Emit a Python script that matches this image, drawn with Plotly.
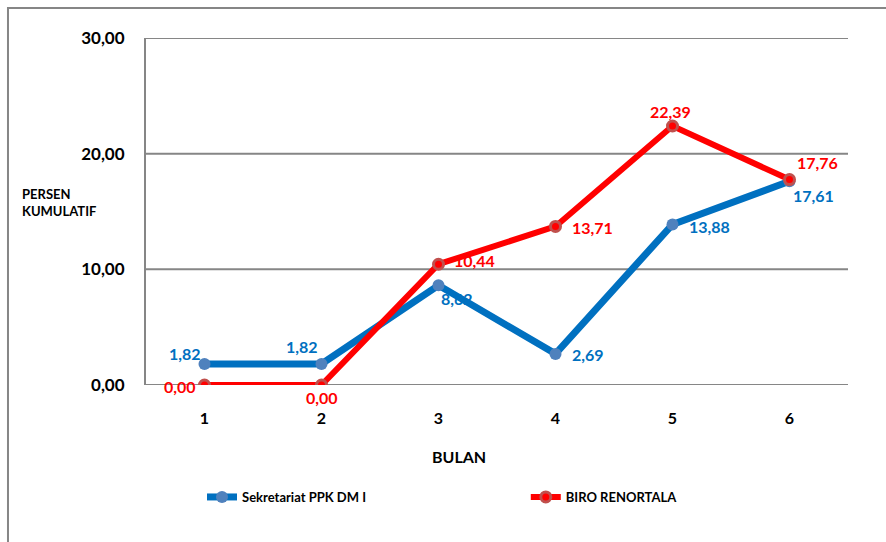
import plotly.graph_objects as go

# Monthly cumulative percentage per unit
bulan = [1, 2, 3, 4, 5, 6]
sekretariat = [1.82, 1.82, 8.62, 2.69, 13.88, 17.61]
biro = [0.00, 0.00, 10.44, 13.71, 22.39, 17.76]
y_ticks = [0, 10, 20, 30]

FONT = "Lato, 'Noto Sans', sans-serif"
BLUE = "#0070C0"
BLUE_MK = "#4F81BD"
RED = "#FF0000"
RED_MK = "#C0504D"
GRID = "#868686"


def fmt(v):
    return f"{v:.2f}".replace(".", ",")


fig = go.Figure()

# horizontal gridlines, including the ones on the range edges
for v in y_ticks:
    fig.add_shape(type="line", xref="paper", yref="y", x0=0, x1=1, y0=v, y1=v,
                  line=dict(color=GRID, width=2), layer="below")

fig.add_trace(go.Scatter(
    x=bulan, y=sekretariat, mode="lines+markers", name="Sekretariat PPK DM I",
    line=dict(color=BLUE, width=7),
    marker=dict(color=BLUE_MK, size=12, symbol="circle"),
    legend="legend",
))
fig.add_trace(go.Scatter(
    x=bulan, y=biro, mode="lines+markers", name="BIRO RENORTALA",
    line=dict(color=RED, width=6),
    marker=dict(color=RED, size=10, symbol="circle",
                line=dict(color=RED_MK, width=3)),
    legend="legend2",
))

# label offsets (px) for each point's value label
blue_shift = [(-20, 10), (-20, 17), (18, -13), (32, -1), (37, -2), (24, -14)]
red_shift = [(-25, -1), (0, -12), (36, 4), (37, -1), (-2, 15), (28, 17)]

for xs, ys, shifts, col in [(bulan, sekretariat, blue_shift, BLUE),
                            (bulan, biro, red_shift, RED)]:
    for x, y, (dx, dy) in zip(xs, ys, shifts):
        fig.add_annotation(x=x, y=y, text=fmt(y), showarrow=False,
                           xshift=dx, yshift=dy,
                           font=dict(family=FONT, size=16, color=col, weight="bold"))

# axis titles
fig.add_annotation(xref="paper", yref="paper", x=-0.1795, y=0.527,
                   xanchor="left", yanchor="middle", align="left", showarrow=False,
                   text="PERSEN<br>KUMULATIF",
                   font=dict(family=FONT, size=13, color="black", weight="bold"))
fig.add_annotation(xref="paper", yref="paper", x=0.446, y=-0.207,
                   xanchor="center", yanchor="middle", showarrow=False,
                   text="BULAN",
                   font=dict(family=FONT, size=16, color="black", weight="bold"))

# outer chart frame
fig.add_shape(type="rect", xref="paper", yref="paper",
              x0=-0.1966, x1=1.3, y0=-0.7, y1=1.0865,
              line=dict(color=GRID, width=2), layer="below")

fig.update_xaxes(
    range=[0.5, 6.5], tickvals=bulan, ticktext=[str(b) for b in bulan],
    showgrid=False, zeroline=False, showline=False,
    ticks="", ticklabelstandoff=22,
    tickfont=dict(family=FONT, size=16, color="black", weight="bold"),
)
fig.update_yaxes(
    range=[0, 30], tickvals=y_ticks, ticktext=[fmt(v) for v in y_ticks],
    showgrid=False, zeroline=False, showline=True, linecolor=GRID, linewidth=2,
    ticks="", ticklabelstandoff=16,
    tickfont=dict(family=FONT, size=17, color="black", weight="bold"),
)

legend_style = dict(orientation="h", yanchor="middle", xanchor="left", y=-0.3228,
                    font=dict(family=FONT, size=13, color="black", weight="bold"),
                    itemwidth=30, bgcolor="rgba(0,0,0,0)")

fig.update_layout(
    width=886, height=542,
    margin=dict(l=146, r=38, t=38, b=157),
    plot_bgcolor="white", paper_bgcolor="white",
    showlegend=True,
    legend=dict(x=0.0798, **legend_style),
    legend2=dict(x=0.541, **legend_style),
)

fig.write_html("out.html")
